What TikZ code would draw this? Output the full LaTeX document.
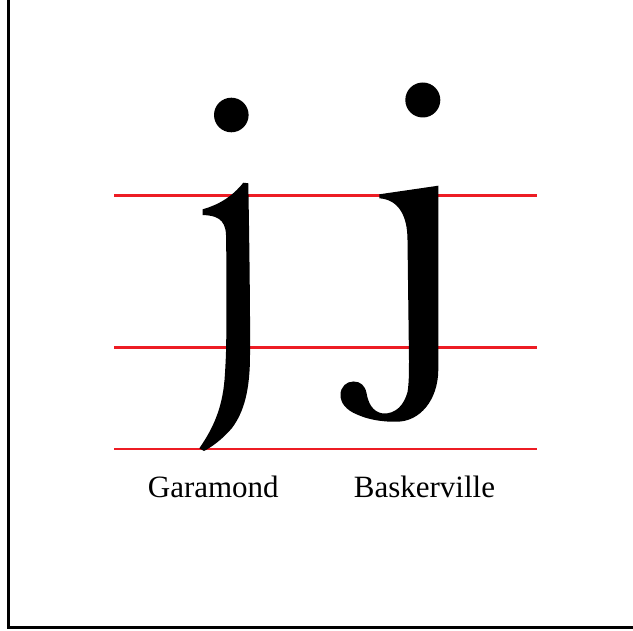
\documentclass[tikz,border=0pt]{standalone}
\usepackage{fontspec}
\setmainfont{Liberation Serif}
\definecolor{guide}{RGB}{237,28,36}
\begin{document}
\begin{tikzpicture}[x=1pt,y=-1pt,
  guideline/.style={draw=guide,line width=2.5pt},
  glyph/.style={fill=black,draw=none},
  frameline/.style={draw=black,line width=3pt},
  label/.style={anchor=base,inner sep=0pt,font=\fontsize{31}{36}\selectfont}]
\useasboundingbox (0,0) rectangle (633,631);
% frame (left and bottom edges visible)
\draw[frameline] (8.5,-5) -- (8.5,627.8) -- (640,627.8);
% guide lines
\coordinate (g1a) at (114,195.7); \coordinate (g1b) at (536.7,195.7);
\coordinate (g2a) at (114,347.3); \coordinate (g2b) at (536.7,347.3);
\coordinate (g3a) at (114,449);   \coordinate (g3b) at (536.7,449);
\draw[guideline] (g1a) -- (g1b);
\draw[guideline] (g2a) -- (g2b);
\draw[guideline] (g3a) -- (g3b);
% Garamond j
\fill[glyph] (231.3,115) circle (17.3);
\fill[glyph] (243.3,182.7) -- (248.3,183.3)
  .. controls (249.5,250) and (250.3,320) .. (250,355)
  .. controls (250,390) and (244,412) .. (232,428)
  .. controls (222,440) and (210,448) .. (204,451)
  -- (199.3,448.3)
  .. controls (212,430) and (222,410) .. (224.5,380)
  .. controls (226,360) and (226.3,345) .. (226.3,330)
  .. controls (226.5,290) and (226.5,260) .. (226,235)
  .. controls (225.5,218) and (215,215.5) .. (202.7,215)
  -- (202.7,209.3)
  .. controls (218,205) and (232,197) .. (243.3,182.7) -- cycle;
% Baskerville j
\fill[glyph] (422.8,100) circle (17.5);
\fill[glyph] (379.3,194.3) -- (438.3,185.7) -- (438.3,370)
  .. controls (438,400) and (420,421.7) .. (396.7,421.7)
  .. controls (380,422) and (367,419) .. (357,414.5)
  .. controls (346,410) and (340.5,403) .. (340.5,395)
  .. controls (340.5,386.5) and (346.5,381.5) .. (353.5,381.5)
  .. controls (360.5,381.5) and (365,385.5) .. (366.5,393)
  .. controls (368,402) and (372,412) .. (383,413.5)
  .. controls (396,414) and (404,405) .. (407.5,392)
  .. controls (409,383) and (409,372) .. (409,360)
  -- (407.5,240)
  .. controls (407.5,215) and (398,199.5) .. (379.3,198.3) -- cycle;
% labels
\node[label] (garamond) at (213.3,497.5) {Garamond};
\node[label] (baskerville) at (424.5,497.5) {Baskerville};
\end{tikzpicture}
\end{document}
